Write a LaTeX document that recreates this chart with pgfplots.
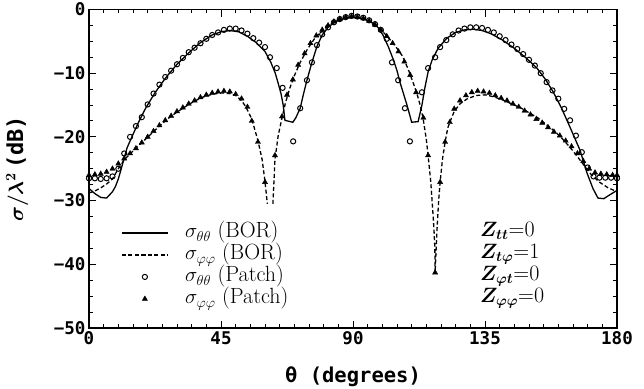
\documentclass[border=0pt]{standalone}
\usepackage{pgfplots}
\pgfplotsset{compat=1.18}
\usepackage{fontspec}
\newfontfamily\monofam{DejaVu Sans Mono}
\newcommand\tickfont{\monofam\bfseries\fontsize{17.5}{20}\selectfont}
\newcommand\xlabfont{\monofam\bfseries\fontsize{20.5}{22}\selectfont}
\newcommand\ylabfont{\monofam\bfseries\fontsize{22}{24}\selectfont}
\newcommand\legfont{\fontsize{22}{22}\selectfont}
\begin{document}
\begin{tikzpicture}
\begin{axis}[
  scale only axis, width=528pt, height=318.5pt,
  xmin=0, xmax=180, ymin=-50, ymax=0,
  xtick={0,45,90,135,180}, xticklabels={0,45,90,135,180},
  ytick={-50,-40,-30,-20,-10,0}, yticklabels={−50,−40,−30,−20,−10,0},
  minor x tick num=8, minor y tick num=3,
  tick align=inside, tick pos=both,
  major tick length=7pt, minor tick length=4pt,
  every tick/.style={black, line width=1pt},
  axis line style={line width=1.6pt},
  ticklabel style={font=\tickfont},
  xlabel={θ (degrees)},
  ylabel={{\boldmath$\sigma/\lambda^{2}$}\,(dB)},
  every axis y label/.style={at={(axis description cs:-0.136,0.5)}, rotate=90, anchor=center, font=\ylabfont},
  every axis x label/.style={at={(axis description cs:0.5,-0.152)}, anchor=center, font=\xlabfont},
  clip=false, unbounded coords=jump,
  legend style={draw=none, fill=none, at={(axis description cs:0.055,0.34)}, anchor=north west,
    font=\legfont, row sep=0pt, nodes={inner sep=0.5pt, text height=15.5pt, text depth=5.5pt},
    /tikz/every odd column/.append style={column sep=16pt}},
  legend cell align=left,
  legend image code/.code={\draw[mark repeat=2,mark phase=2,#1] plot coordinates {(0pt,0pt)(23pt,0pt)(46pt,0pt)};},
]
% sigma_theta_theta (BOR)
\addplot[black, line width=1.3pt] coordinates {
(0,-28.1)(2,-28.9)(4,-29.5)(6,-29.6)(8,-28.6)(9,-27.8)(10,-26.6)(11,-25.0)(12,-23.3)(13,-21.7)(15,-19.6)(17,-17.6)(19.3,-15.5)(22.3,-13.2)(26,-10.8)(30,-8.6)(34,-6.8)(38,-5.2)(42,-4.0)(45,-3.5)(48,-3.3)(51,-3.5)(54,-4.2)(57,-5.2)(60,-6.6)(62,-8.3)(63.5,-10.0)(64.5,-11.6)(65.5,-13.3)(66.2,-15.0)(66.8,-17.4)(69.5,-17.7)(70.5,-17.0)(72,-15.5)(73,-13.5)(74.3,-11.1)(76,-8.3)(77.7,-5.8)(79.5,-4.0)(81.5,-2.8)(84,-1.9)(87,-1.4)(90,-1.2)(93,-1.4)(96,-1.9)(98.5,-2.8)(100.2,-4.0)(102,-5.8)(103.7,-7.8)(105,-9.6)(106,-11.4)(107.2,-13.2)(108.4,-15.0)(109.3,-16.5)(110,-17.7)(112.2,-17.6)(113.5,-15.0)(114.5,-12.3)(115.6,-9.8)(117,-7.9)(119,-6.1)(122,-4.5)(125,-3.6)(128,-3.2)(131,-3.1)(134,-3.3)(137,-3.8)(141,-4.8)(145,-6.1)(149,-7.6)(152.7,-9.2)(155.5,-10.9)(158.2,-12.9)(161,-15.4)(164,-18.5)(167.4,-22.1)(169.8,-25.7)(171.8,-28.1)(173.5,-29.6)(175.5,-29.7)(177.5,-29.1)(180,-28.4)
};
\addlegendentry{$\sigma_{\theta\theta}$ (BOR)}
% sigma_phi_phi (BOR)
\addplot[black, line width=1.3pt, dash pattern=on 4pt off 2.5pt] coordinates {
(0,-28.8)(2,-28.5)(4,-28.0)(6,-27.4)(8,-26.6)(10,-25.0)(12,-23.6)(15,-22.2)(18,-20.9)(21.5,-19.4)(24,-18.3)(27,-17.1)(30,-16.1)(32.7,-15.3)(35.5,-14.5)(38.5,-13.8)(42,-13.3)(45.3,-13.1)(48,-13.2)(50,-13.5)(52,-14.3)(53.5,-15.3)(55.5,-17.2)(57.6,-20.6)(59,-23.5)(60,-27.0)(60.8,-30.5)
(61.7,nan)
(62.7,-30.5)(63.4,-23.5)(64.5,-19.8)(65.8,-17.0)(67,-14.6)(68.5,-12.3)(70,-10.4)(72,-8.3)(74.5,-6.2)(77,-4.5)(80,-3.1)(83,-2.1)(86,-1.5)(90,-1.2)(94,-1.5)(97,-2.2)(100,-3.4)(103,-4.9)(105,-6.1)(107,-7.4)(109,-9.6)(110.5,-11.5)(111.8,-13.2)(113,-15.2)(113.9,-17.1)(115,-20.4)(115.6,-22.9)(116.5,-27.0)(117.3,-32.3)(117.6,-34.5)(117.9,-37.5)(118,-41.3)(118.3,-38)(118.7,-34)(119.2,-30)(119.7,-27.1)(120.5,-23.5)(121.4,-20.8)(122.3,-18.6)(123,-17.7)(124.5,-16.0)(126.5,-14.8)(129,-14.0)(132,-13.5)(135,-13.4)(138,-13.7)(141,-14.2)(144,-14.8)(147,-15.4)(150,-16.2)(153,-17.0)(156,-18.1)(159,-19.2)(162,-20.6)(165,-22.2)(168,-24.0)(171,-25.8)(174,-27.1)(177,-28.0)(180,-28.6)
};
\addlegendentry{$\sigma_{\varphi\varphi}$ (BOR)}
% sigma_theta_theta (Patch)
\addplot[black, only marks, mark=o, mark size=2.6pt, mark options={line width=1pt}] coordinates {
(0,-26.5)(2,-26.5)(4,-26.6)(6,-26.5)(8,-26.2)(10,-25.0)(12,-22.6)(14,-20.0)(16,-18.3)(18,-16.9)(20,-14.9)(22,-13.2)(24,-11.8)(26,-10.6)(28,-9.6)(30,-8.6)(32,-7.6)(34,-6.7)(36,-6.0)(38,-5.3)(40,-4.6)(42,-4.0)(44,-3.6)(46,-3.2)(48,-3.0)(50,-3.0)(52,-3.3)(54,-3.8)(56,-4.5)(58,-5.2)(60,-5.9)(61.7,-7.5)(64,-9.2)(66,-12.3)(69.6,-20.7)(72,-15.5)(74.3,-11.1)(76,-8.3)(77.7,-5.6)(79.5,-3.9)(81.5,-2.8)(83.5,-2.0)(85.5,-1.5)(87.5,-1.2)(89.5,-1.0)(91.5,-1.1)(93.5,-1.3)(95.5,-1.7)(97.5,-2.3)(99.5,-3.2)(101.5,-4.6)(103.3,-8.3)(105.4,-11.1)(107.7,-15.5)(109.4,-20.7)(113.5,-13.0)(115.6,-9.2)(118,-7.5)(119.7,-5.9)(121.8,-4.8)(124,-3.9)(126,-3.3)(128,-3.0)(130,-2.8)(132,-2.8)(134,-2.9)(136,-3.2)(138,-3.6)(140,-4.2)(142,-4.8)(144,-5.5)(146,-6.2)(148,-7.0)(150,-7.9)(152,-8.8)(154,-10.0)(156,-11.4)(158,-12.7)(160,-14.0)(162,-15.6)(164,-17.4)(166,-19.8)(168,-22.4)(170,-24.8)(172,-26.2)(174,-26.4)(176,-26.4)(178,-26.4)(180,-26.5)
};
\addlegendentry{$\sigma_{\theta\theta}$ (Patch)}
% sigma_phi_phi (Patch)
\addplot[black, only marks, mark=triangle*, mark size=3pt] coordinates {
(0,-26.0)(2,-25.9)(4,-25.8)(6,-25.5)(8,-25.0)(10,-24.2)(12,-23.4)(14,-22.6)(16,-21.8)(18,-20.9)(20,-20.0)(22,-19.1)(24,-18.2)(26,-17.4)(28,-16.7)(30,-16.0)(32,-15.4)(34,-14.8)(36,-14.3)(38,-13.8)(40,-13.4)(42,-13.1)(44,-12.9)(46,-12.8)(48,-12.9)(50,-13.3)(52,-14.0)(54,-15.3)(55.5,-17.5)(57.6,-20.8)(60,-27.1)(63.4,-22.9)(65.8,-16.8)(67.5,-13.4)(69.5,-11.0)(71.3,-8.7)(73.5,-6.9)(75.5,-5.3)(77.5,-4.1)(79.5,-3.2)(81.5,-2.5)(83.5,-1.9)(85.5,-1.5)(87.5,-1.2)(89.5,-1.1)(91.5,-1.2)(93.5,-1.4)(95.5,-1.8)(97.5,-2.4)(99.5,-3.2)(101.5,-4.2)(103.5,-5.3)(105.5,-6.6)(107.5,-8.2)(109.5,-10.3)(111.5,-13.0)(114,-17.0)(115.6,-22.9)(118,-41.3)(119.7,-27.1)(121.4,-20.8)(123,-17.7)(124.5,-15.6)(126.5,-14.3)(128.5,-13.5)(130.5,-13.0)(132.5,-12.8)(134.5,-12.9)(136.5,-13.1)(138.5,-13.5)(140.5,-13.9)(142.5,-14.3)(144.5,-14.8)(146.5,-15.3)(148.5,-15.9)(150.5,-16.5)(152.5,-17.2)(154.5,-17.8)(156.5,-18.5)(158.5,-19.2)(160.5,-19.8)(162.5,-20.6)(164.5,-21.5)(166.5,-22.6)(168.5,-23.8)(170.5,-25.0)(172.5,-25.6)(174.5,-25.8)(176.5,-25.9)(178.5,-26.0)(180,-26.0)
};
\addlegendentry{$\sigma_{\varphi\varphi}$ (Patch)}
\node[anchor=north west, font=\legfont, align=left, inner sep=0pt] at (axis description cs:0.7405,0.333)
  {{\boldmath$Z_{tt}$}=0\\ {\boldmath$Z_{t\varphi}$}=1\\ {\boldmath$Z_{\varphi t}$}=0\\ {\boldmath$Z_{\varphi\varphi}$}=0};
\end{axis}
\pgfresetboundingbox
\useasboundingbox (-89pt,-60pt) rectangle (555pt,328pt);
\end{tikzpicture}
\end{document}
